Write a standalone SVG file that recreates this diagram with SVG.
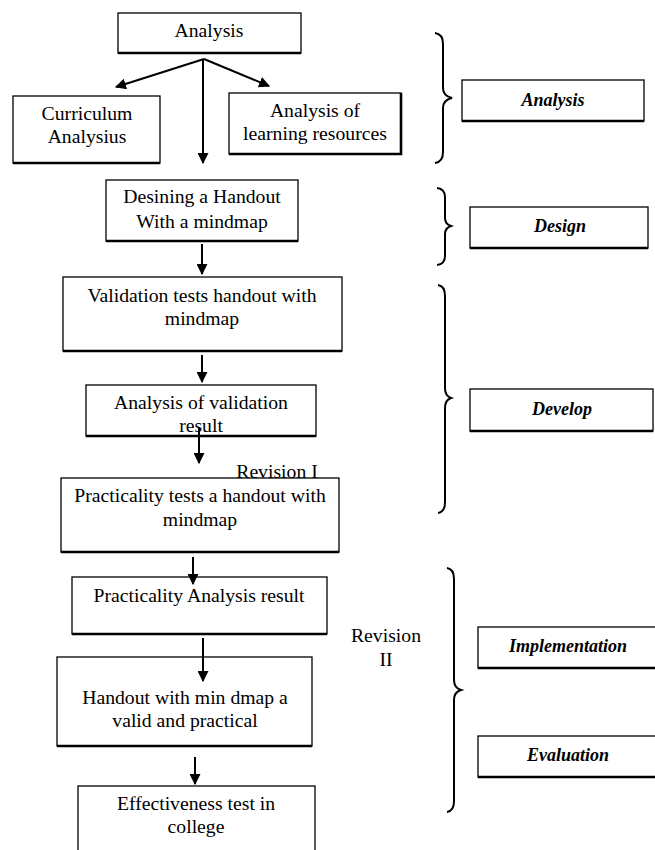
<svg xmlns="http://www.w3.org/2000/svg" width="655" height="850" viewBox="0 0 655 850">
<style>
.box{fill:#fff;stroke:#000;stroke-width:1.3}
.sh{fill:none;stroke:#000;stroke-width:2.6}
.t{font-family:"Liberation Serif","Times New Roman",serif;font-size:19.7px;fill:#000;text-anchor:middle}
.b{font-family:"Liberation Serif","Times New Roman",serif;font-size:18px;font-weight:bold;font-style:italic;fill:#000;text-anchor:middle}
.ln{fill:none;stroke:#000;stroke-width:2}
.br{fill:none;stroke:#000;stroke-width:2}
</style>
<defs>
<marker id="ah" viewBox="0 0 10 10" refX="9" refY="5" markerWidth="5.5" markerHeight="5.5" orient="auto" markerUnits="strokeWidth">
<path d="M0,0 L10,5 L0,10 z" fill="#000"/>
</marker>
</defs>
<rect width="655" height="850" fill="#fff"/>

<g id="revision1"><text class="t" x="277" y="478">Revision  I</text></g>

<g id="n-analysis"><rect class="box" x="118" y="13" width="183" height="40"/><path class="sh" d="M118,53 H301"/><text class="t" x="209" y="37">Analysis</text></g>
<g id="n-curriculum"><rect class="box" x="13" y="96" width="147" height="67"/><path class="sh" d="M13,163 H160"/><text class="t" x="87" y="120">Curriculum</text><text class="t" x="87" y="143">Analysius</text></g>
<g id="n-resources"><rect class="box" x="229" y="93" width="172" height="61"/><path class="sh" d="M229,154 H401 V93"/><text class="t" x="315" y="117">Analysis of</text><text class="t" x="315" y="140">learning resources</text></g>
<g id="n-design"><rect class="box" x="106" y="180" width="192" height="61"/><path class="sh" d="M106,241 H298"/><text class="t" x="202" y="203">Desining a Handout</text><text class="t" x="202" y="228">With a mindmap</text></g>
<g id="n-validation"><rect class="box" x="63" y="277" width="279" height="74"/><path class="sh" d="M63,351 H342"/><text class="t" x="202" y="302">Validation tests handout with</text><text class="t" x="202" y="325">mindmap</text></g>
<g id="n-valresult"><rect class="box" x="86" y="385" width="230" height="51"/><path class="sh" d="M86,436 H316"/><text class="t" x="201" y="409">Analysis of validation</text><text class="t" x="201" y="432">result</text></g>
<g id="n-practicality"><rect class="box" x="61" y="478" width="278" height="74"/><path class="sh" d="M61,552 H339"/><text class="t" x="200" y="502">Practicality tests a handout with</text><text class="t" x="200" y="526">mindmap</text></g>
<g id="n-pracresult"><rect class="box" x="72" y="577" width="255" height="57"/><path class="sh" d="M72,634 H327"/><text class="t" x="199" y="602">Practicality Analysis result</text></g>
<g id="n-handout"><rect class="box" x="57" y="657" width="255" height="89"/><path class="sh" d="M57,746 H312"/><text class="t" x="185" y="704">Handout with min dmap a</text><text class="t" x="185" y="727">valid and practical</text></g>
<g id="n-effect"><rect class="box" x="78" y="786" width="237" height="70"/><text class="t" x="196" y="810">Effectiveness test in</text><text class="t" x="196" y="833">college</text></g>
<g id="revision2"><text class="t" x="386" y="642">Revision</text><text class="t" x="386" y="666">II</text></g>

<g id="connectors">
<path class="ln" d="M204,59 L116,87" marker-end="url(#ah)"/>
<path class="ln" d="M204,59 L269,86" marker-end="url(#ah)"/>
<path class="ln" d="M203,59 V163" marker-end="url(#ah)"/>
<path class="ln" d="M202,244 V274" marker-end="url(#ah)"/>
<path class="ln" d="M202,355 V382" marker-end="url(#ah)"/>
<path class="ln" d="M199,428 V463" marker-end="url(#ah)"/>
<path class="ln" d="M193,557 V584" marker-end="url(#ah)"/>
<path class="ln" d="M203,638 V681" marker-end="url(#ah)"/>
<path class="ln" d="M195,757 V784" marker-end="url(#ah)"/>
</g>

<g id="braces">
<path class="br" d="M435,33 Q443,34 443,44 V88 Q443,96 452,98 Q443,100 443,108 V152 Q443,162 435,163"/>
<path class="br" d="M437,188 Q445,189 445,197 V218 Q445,224 451,226 Q445,228 445,234 V256 Q445,264 437,265"/>
<path class="br" d="M438,285 Q445,286 445,296 V388 Q445,396 451,398 Q445,400 445,408 V502 Q445,512 438,513"/>
<path class="br" d="M447,568 Q454,569 454,579 V680 Q454,688 461,690 Q454,692 454,700 V801 Q454,811 447,812"/>
</g>

<g id="p-analysis"><rect class="box" x="462" y="80" width="182" height="41"/><path class="sh" d="M462,121 H644"/><text class="b" x="553" y="106">Analysis</text></g>
<g id="p-design"><rect class="box" x="470" y="207" width="178" height="41"/><path class="sh" d="M470,248 H648"/><text class="b" x="560" y="232">Design</text></g>
<g id="p-develop"><rect class="box" x="470" y="389" width="183" height="42"/><path class="sh" d="M470,431 H653"/><text class="b" x="562" y="415">Develop</text></g>
<g id="p-impl"><rect class="box" x="478" y="627" width="185" height="41"/><path class="sh" d="M478,668 H655"/><text class="b" x="568" y="652">Implementation</text></g>
<g id="p-eval"><rect class="box" x="478" y="736" width="185" height="41"/><path class="sh" d="M478,777 H655"/><text class="b" x="568" y="761">Evaluation</text></g>
</svg>
